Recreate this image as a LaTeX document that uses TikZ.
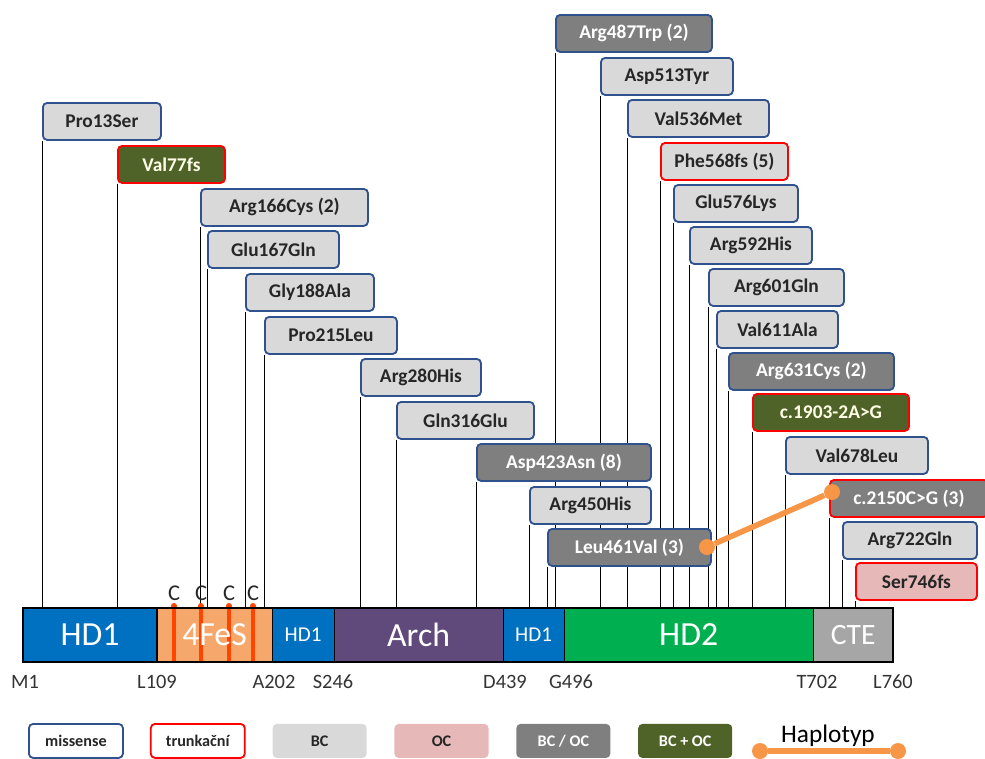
\documentclass[tikz,border=0pt]{standalone}
\usepackage{fontspec}
\setmainfont{Carlito}
\usepackage{tikz}
\usetikzlibrary{positioning,backgrounds}
\definecolor{misblue}{RGB}{47,82,143}
\definecolor{truncred}{RGB}{255,0,0}
\definecolor{bcgray}{RGB}{217,217,217}
\definecolor{ocpink}{RGB}{230,184,183}
\definecolor{bcocgray}{RGB}{127,127,127}
\definecolor{bcplusgreen}{RGB}{79,98,40}
\definecolor{hdblue}{RGB}{0,112,192}
\definecolor{fesorange}{RGB}{246,168,108}
\definecolor{cysred}{RGB}{255,69,0}
\definecolor{archpurple}{RGB}{96,74,123}
\definecolor{hdgreen}{RGB}{0,176,80}
\definecolor{ctegray}{RGB}{166,166,166}
\definecolor{haporange}{RGB}{247,150,70}
\tikzset{
  mutbox/.style={draw, rounded corners=3pt, line width=1.3pt, anchor=north west,
                 minimum height=0.925cm, inner sep=0pt, font=\bfseries\fontsize{13.8}{15}\selectfont},
  misbox/.style={mutbox, draw=misblue},
  truncbox/.style={mutbox, draw=truncred},
  bcbox/.style={fill=bcgray, text=black!85},
  ocbox/.style={fill=ocpink, text=black!85},
  bcocbox/.style={fill=bcocgray, text=white},
  bcplusbox/.style={fill=bcplusgreen, text=white!90!yellow},
  dombox/.style={draw=black, line width=0.8pt, minimum height=1.35cm, inner sep=0pt,
                 outer sep=0pt, text=white, font=\fontsize{24}{26}\selectfont},
  stem/.style={line width=0.6pt, black},
  cys/.style={cysred, line width=2.6pt},
  cyslabel/.style={font=\fontsize{16}{18}\selectfont, text=black!85},
  poslabel/.style={font=\fontsize{14.5}{16}\selectfont, text=black!80},
  legbox/.style={rounded corners=3pt, line width=1.3pt, anchor=north west, minimum width=2.35cm,
                 minimum height=0.85cm, inner sep=0pt, font=\bfseries\fontsize{11.5}{13}\selectfont},
  hapline/.style={haporange, line width=4pt},
  hapdot/.style={circle, fill=haporange, minimum size=0.4cm, inner sep=0pt},
}
\begin{document}
\begin{tikzpicture}[x=0.025cm, y=-0.025cm]
  \useasboundingbox (0,0) rectangle (985,758);

  % domain bar
  \node[dombox, fill=hdblue, minimum width=3.35cm, anchor=north west] (hdA) at (23,608) {HD1};
  \node[dombox, fill=fesorange, minimum width=2.875cm, right=0pt of hdA] (fes) {};
  \node[dombox, fill=hdblue, minimum width=1.55cm, right=0pt of fes,
        font=\fontsize{15}{17}\selectfont] (hdB) {HD1};
  \node[dombox, fill=archpurple, minimum width=4.225cm, right=0pt of hdB] (arch) {Arch};
  \node[dombox, fill=hdblue, minimum width=1.525cm, right=0pt of arch,
        font=\fontsize{15}{17}\selectfont] (hdC) {HD1};
  \node[dombox, fill=hdgreen, minimum width=6.225cm, right=0pt of hdC] (hd2) {HD2};
  \node[dombox, fill=ctegray, minimum width=2cm, right=0pt of hd2,
        font=\fontsize{21}{23}\selectfont] (cte) {CTE};

  % cysteines in 4FeS
  \foreach \x [count=\i] in {174,201,229,253} {
    \draw[cys] (\x,606) -- (\x,661);
    \fill[cysred] (\x,606) circle (3);
    \node[cyslabel] (cys\i) at (\x,593) {C};
  }
  \node[text=white, font=\fontsize{24}{26}\selectfont] (fesl) at (fes) {4FeS};
  \draw[line width=1.6pt] (hdA.north west) rectangle (cte.south east);

  % positions
  \node[poslabel] (pM1)   at (25,682)  {M1};
  \node[poslabel] (pL109) at (157,682) {L109};
  \node[poslabel] (pA202) at (274,682) {A202};
  \node[poslabel] (pS246) at (333,682) {S246};
  \node[poslabel] (pD439) at (505,682) {D439};
  \node[poslabel] (pG496) at (571,682) {G496};
  \node[poslabel] (pT702) at (817,682) {T702};
  \node[poslabel] (pL760) at (893,682) {L760};

  % variants
  \node[misbox, bcbox, minimum width=2.95cm]    (p13)   at (42,102)  {Pro13Ser};
  \node[truncbox, bcplusbox, minimum width=2.675cm] (v77) at (117,145) {Val77fs};
  \node[misbox, bcbox, minimum width=4.175cm]   (r166)  at (200,188) {Arg166Cys (2)};
  \node[misbox, bcbox, minimum width=3.275cm]   (e167)  at (207,230) {Glu167Gln};
  \node[misbox, bcbox, minimum width=3.2cm]     (g188)  at (245,273) {Gly188Ala};
  \node[misbox, bcbox, minimum width=3.3cm]     (p215)  at (264,316) {Pro215Leu};
  \node[misbox, bcbox, minimum width=3.0cm]     (r280)  at (360,358) {Arg280His};
  \node[misbox, bcbox, minimum width=3.425cm]   (q316)  at (396,401) {Gln316Glu};
  \node[misbox, bcocbox, minimum width=4.35cm]  (d423)  at (476,443) {Asp423Asn (8)};
  \node[misbox, bcbox, minimum width=3.025cm]   (r450)  at (529,486) {Arg450His};
  \node[misbox, bcocbox, minimum width=4.075cm] (l461)  at (547,528) {Leu461Val (3)};
  \node[misbox, bcocbox, minimum width=3.9cm]   (r487)  at (555,14)  {Arg487Trp (2)};
  \node[misbox, bcbox, minimum width=3.3cm]     (d513)  at (600,57)  {Asp513Tyr};
  \node[misbox, bcbox, minimum width=3.525cm]   (v536)  at (627,99)  {Val536Met};
  \node[truncbox, bcbox, minimum width=3.175cm] (f568)  at (660,142) {Phe568fs (5)};
  \node[misbox, bcbox, minimum width=3.1cm]     (e576)  at (673,184) {Glu576Lys};
  \node[misbox, bcbox, minimum width=3.05cm]    (r592)  at (689,226) {Arg592His};
  \node[misbox, bcbox, minimum width=3.375cm]   (r601)  at (708,268) {Arg601Gln};
  \node[misbox, bcbox, minimum width=3.025cm]   (v611)  at (716,310) {Val611Ala};
  \node[misbox, bcocbox, minimum width=4.125cm] (r631)  at (728,352) {Arg631Cys (2)};
  \node[truncbox, bcplusbox, minimum width=3.9cm] (c1903) at (752,393) {c.1903-2A>G};
  \node[misbox, bcbox, minimum width=3.55cm]    (v678)  at (785,436) {Val678Leu};
  \node[truncbox, bcocbox, minimum width=3.95cm] (c2150) at (829,479) {c.2150C>G (3)};
  \node[misbox, bcbox, minimum width=3.35cm]    (r722)  at (842,521) {Arg722Gln};
  \node[truncbox, ocbox, minimum width=3.025cm] (s746)  at (855,562) {Ser746fs};

  % stems down to the bar
  \begin{scope}[on background layer]
    \foreach \m in {p13,v77,r166,e167,g188,p215,r280,q316,d423,r450,l461,r487,d513,
                    v536,f568,e576,r592,r601,v611,r631,c1903,v678,c2150,r722,s746}
      \draw[stem] ([xshift=0.6pt]\m.south west) -- ([xshift=0.6pt]\m.south west |- hdA.north);
  \end{scope}

  % haplotype
  \node[hapdot] (hapA) at (707,547) {};
  \node[hapdot] (hapB) at (832,492) {};
  \draw[hapline] (hapA) -- (hapB);

  % legend
  \node[legbox, draw=misblue, fill=white, text=black!85]        (lmis)    at (28,723) {missense};
  \node[legbox, draw=truncred, fill=white, text=black!85, right=0.65cm of lmis] (ltrunc) {trunkační};
  \node[legbox, fill=bcgray, text=black!85, right=0.65cm of ltrunc]  (lbc)     {BC};
  \node[legbox, fill=ocpink, text=black!85, right=0.65cm of lbc]     (loc)     {OC};
  \node[legbox, fill=bcocgray, text=white, right=0.65cm of loc]      (lbcoc)   {BC / OC};
  \node[legbox, fill=bcplusgreen, text=white, right=0.65cm of lbcoc] (lbcplus) {BC + OC};
  \node[font=\fontsize{18}{20}\selectfont] (lhap) at (828,736) {Haplotyp};
  \node[hapdot] (hapC) at (760,751) {};
  \node[hapdot] (hapD) at (898,751) {};
  \draw[hapline] (hapC) -- (hapD);
\end{tikzpicture}
\end{document}
